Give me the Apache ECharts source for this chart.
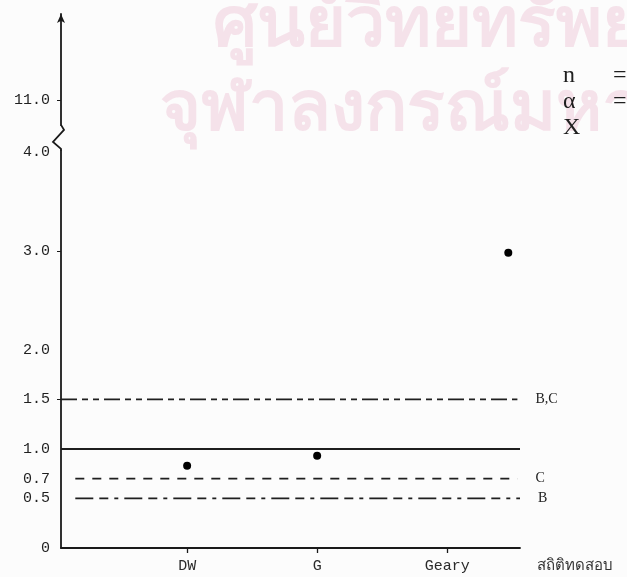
<!DOCTYPE html>
<html>
<head>
<meta charset="utf-8">
<script src="https://cdn.jsdelivr.net/npm/echarts@6/dist/echarts.min.js"></script>
<style>
html,body{margin:0;padding:0;background:#fcfcfc;}
#chart{width:627px;height:577px;}
</style>
</head>
<body>
<div id="chart"></div>
<script>
// ---- data ----
const categories = ['DW', 'G', 'Geary'];
const categoryX = [1, 2, 3];
const pointX = [1, 2, 3.47];
const pointY = [0.83, 0.93, 2.98];
const refNames = ['B,C', '', 'C', 'B'];
const refValues = [1.5, 1.0, 0.7, 0.5];
const refStart = [0.03, 0.03, 0.14, 0.14];
const refEnd = [3.54, 3.56, 3.54, 3.56];
const yTickValues = [0, 0.5, 0.7, 1.0, 1.5, 2.0, 3.0, 4.0, 11.0];
const yTickLabels = ['0', '0.5', '0.7', '1.0', '1.5', '2.0', '3.0', '4.0', '11.0'];
const yMarkedTicks = [1.5, 3.0, 11.0];
const xAxisTitle = 'สถิติทดสอบ';
const legendSymbols = ['n', 'α', 'X'];
const legendSigns = ['=', '=', ''];

// broken axis: values above the break are shifted down
const breakValue = 11.0, breakPos = 4.52;
function yPos(v) { return v >= breakValue ? breakPos + (v - breakValue) : v; }

const axisColor = '#1a1a1a';
const monoFont = '"Liberation Mono", "DejaVu Sans Mono", monospace';
const dashStyles = [[16, 5, 6, 5, 6, 5], null, [9, 8], [18, 6, 9, 6, 4, 6]];

const chart = echarts.init(document.getElementById('chart'), null, {renderer: 'canvas'});

const series = [];
refValues.forEach((v, i) => {
  series.push({
    type: 'line',
    name: refNames[i] || ('ref' + i),
    data: [[refStart[i], v], [refEnd[i], v]],
    symbol: 'none',
    silent: true,
    lineStyle: {
      color: '#1f1f1f',
      width: dashStyles[i] ? 1.8 : 2,
      type: dashStyles[i] ? dashStyles[i] : 'solid'
    },
    endLabel: {
      show: !!refNames[i],
      formatter: () => refNames[i],
      distance: 18,
      color: '#222',
      fontFamily: '"Liberation Serif", serif',
      fontSize: 14
    },
    z: 2
  });
});
series.push({
  type: 'scatter',
  name: 'points',
  data: pointX.map((x, i) => [x, pointY[i]]),
  symbol: 'circle',
  symbolSize: 8,
  itemStyle: {color: '#000', opacity: 1},
  z: 3
});

chart.setOption({
  backgroundColor: '#fcfcfc',
  animation: false,
  grid: {left: 61, right: 107, top: 14, bottom: 29, outerBoundsMode: 'none'},
  xAxis: {
    type: 'value',
    min: 0.03,
    max: 3.56,
    splitLine: {show: false},
    axisLine: {show: true, lineStyle: {color: axisColor, width: 1.8}},
    axisTick: {show: true, customValues: categoryX, length: 5, lineStyle: {color: axisColor, width: 1.3}},
    axisLabel: {
      customValues: categoryX,
      margin: 11,
      color: '#2a2a2a',
      fontFamily: monoFont,
      fontSize: 15,
      formatter: (val) => {
        const i = categoryX.indexOf(val);
        return i >= 0 ? categories[i] : '';
      }
    }
  },
  yAxis: {
    type: 'value',
    min: 0,
    max: 5.39,
    splitLine: {show: false},
    axisLine: {
      show: true,
      symbol: ['none', 'arrow'],
      symbolSize: [6, 9],
      lineStyle: {color: axisColor, width: 1.8}
    },
    axisTick: {
      show: true,
      customValues: yMarkedTicks.map(yPos),
      length: 4,
      lineStyle: {color: axisColor, width: 1}
    },
    axisLabel: {
      customValues: yTickValues.map(yPos),
      margin: 11,
      color: '#1f1f1f',
      fontFamily: monoFont,
      fontSize: 15,
      formatter: (val) => {
        for (let i = 0; i < yTickValues.length; i++) {
          if (Math.abs(yPos(yTickValues[i]) - val) < 1e-6) return yTickLabels[i];
        }
        return '';
      }
    }
  },
  series: series
});

// decorations: axis break zigzag, legend text, axis title, watermark
const ax = chart.convertToPixel({xAxisIndex: 0}, 0.03);
const yb = chart.convertToPixel({yAxisIndex: 0}, 4.14);
const xEnd = chart.convertToPixel({xAxisIndex: 0}, 3.56);
const yZero = chart.convertToPixel({yAxisIndex: 0}, 0);

const serifStyle = (t) => ({text: t, fill: '#1f1f1f', fontFamily: '"Liberation Serif", "DejaVu Serif", serif', fontSize: 24});
const wmStyle = (t) => ({text: t, fill: '#f5e2ea', fontFamily: 'sans-serif', fontWeight: 'bold', fontSize: 70});

const graphics = [
  {type: 'text', silent: true, z: -10, left: 213, top: -8, style: wmStyle('ศูนย์วิทยทรัพยากร')},
  {type: 'text', silent: true, z: -10, left: 160, top: 76, style: wmStyle('จุฬาลงกรณ์มหาวิทยาลัย')},
  {type: 'rect', silent: true, z: 100,
   shape: {x: ax - 3, y: yb - 12, width: 6, height: 24},
   style: {fill: '#fcfcfc'}},
  {type: 'polyline', silent: true, z: 101,
   shape: {points: [[ax, yb - 13], [ax + 3, yb - 8], [ax - 8, yb + 4], [ax, yb + 11], [ax, yb + 13]]},
   style: {stroke: axisColor, lineWidth: 1.8, fill: null}},
  {type: 'text', silent: true, left: xEnd + 17, top: yZero + 10,
   style: {text: xAxisTitle, fill: '#333', fontFamily: 'sans-serif', fontSize: 15}},
];
legendSymbols.forEach((s, i) => {
  graphics.push({type: 'text', silent: true, left: 563, top: 64 + i * 26, style: serifStyle(s)});
  if (legendSigns[i]) graphics.push({type: 'text', silent: true, left: 613, top: 64 + i * 26, style: serifStyle(legendSigns[i])});
});
chart.setOption({graphic: graphics});
</script>
</body>
</html>
